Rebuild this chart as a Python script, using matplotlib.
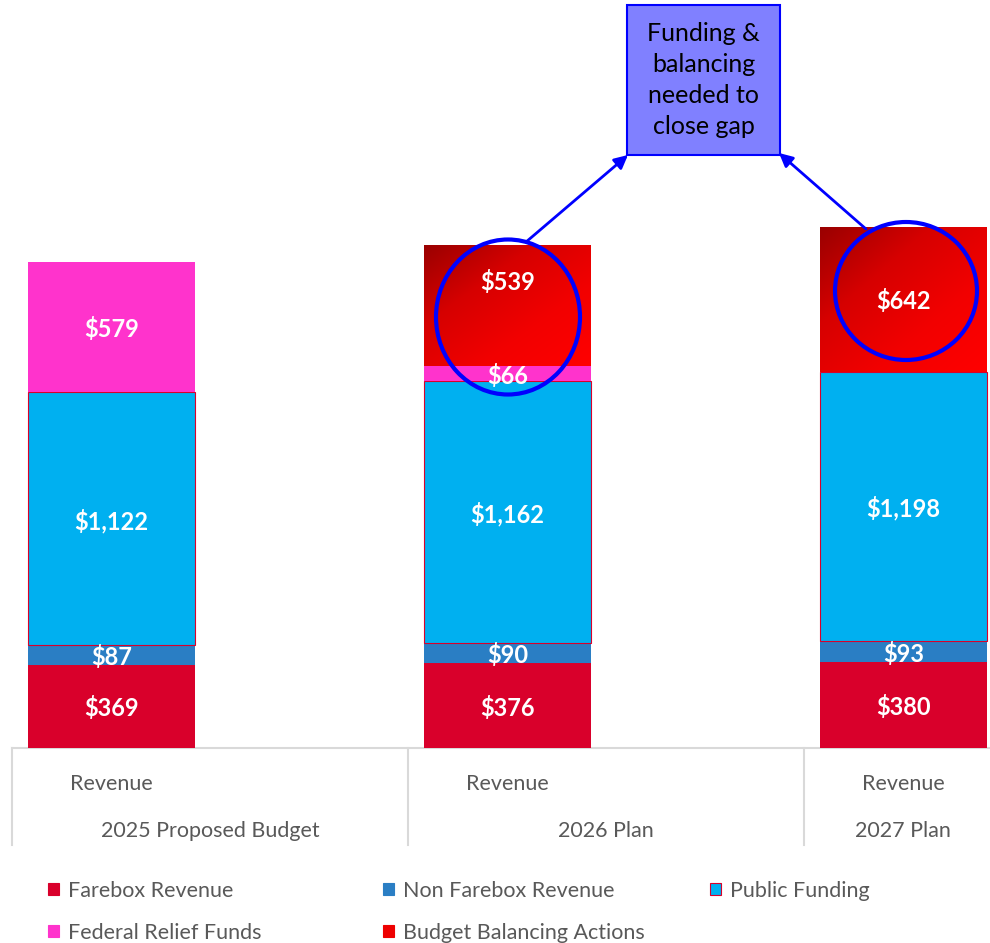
"""
Revenue stack per budget year, with gap-closing callout.
"""

import numpy as np
import matplotlib
matplotlib.use("Agg")
import matplotlib.pyplot as plt
from matplotlib.colors import LinearSegmentedColormap
from matplotlib.patches import Rectangle, Ellipse

plt.rcParams["font.family"] = ["Lato", "DejaVu Sans"]

groups = ["2025 Proposed Budget", "2026 Plan", "2027 Plan"]
sub_label = "Revenue"
farebox = [369, 376, 380]
non_farebox = [87, 90, 93]
public_funding = [1122, 1162, 1198]
federal_relief = [579, 66, 0]
balancing = [0, 539, 642]

series = [
    ("Farebox Revenue", farebox, "#D9002B"),
    ("Non Farebox Revenue", non_farebox, "#2A7EC4"),
    ("Public Funding", public_funding, "#00B0F0"),
    ("Federal Relief Funds", federal_relief, "#FF33CC"),
    ("Budget Balancing Actions", balancing, "#EE0000"),
]

# layout in pixels of the 990x943 canvas
W, H = 990, 943
BASE = 748          # pixel row of the baseline
YMAX = 3320         # value at the top edge of the axes
X0 = 111.5          # pixel column of the first bar centre
STEP = 396          # pixels between bar centres


def px_x(px):
    return (px - X0) / STEP


def px_y(py):
    return (BASE - py) * YMAX / BASE


fig = plt.figure(figsize=(W / 100, H / 100), dpi=100)
ax = fig.add_axes([12 / W, (H - BASE) / H, (W - 12) / W, BASE / H])

x = np.arange(len(groups))
width = 167 / STEP
bottom = np.zeros(len(groups))
label_shift = {("Budget Balancing Actions", 1): 115}

grad_cmap = LinearSegmentedColormap.from_list(
    "bal", ["#9A0000", "#D60000", "#F20000", "#FF0000"])
gy, gx = np.mgrid[0:1:100j, 0:1:100j]
grad = (gx + gy) / 2

for name, vals, color in series:
    vals = np.array(vals)
    edge = "#D9002B" if name == "Public Funding" else "none"
    bars = ax.bar(x, vals, width, bottom=bottom, color=color,
                  edgecolor=edge, linewidth=0.8, zorder=2)
    if name == "Budget Balancing Actions":
        for p in bars:
            if p.get_height() <= 0:
                continue
            im = ax.imshow(grad, cmap=grad_cmap, aspect="auto", origin="upper",
                           extent=[p.get_x(), p.get_x() + p.get_width(),
                                   p.get_y(), p.get_y() + p.get_height()],
                           zorder=2.5)
            im.set_clip_path(p)
    for i, (b, v) in enumerate(zip(bottom, vals)):
        if v <= 0:
            continue
        ax.text(x[i], b + v / 2 + label_shift.get((name, i), 0), f"${v:,}",
                ha="center", va="center_baseline", color="white", fontsize=17,
                fontweight="bold", zorder=5)
    bottom += vals

ax.set_xlim(px_x(12), px_x(W))
ax.set_ylim(0, YMAX)
for s in ax.spines.values():
    s.set_visible(False)
ax.set_xticks([])
ax.set_yticks([])

# category axis: baseline, separators, two label levels
xt = ax.get_xaxis_transform()
ax.plot([px_x(12), px_x(W)], [0, 0], color="#D9D9D9", lw=1.5,
        transform=xt, clip_on=False, zorder=1)
for sep in [12, 408, 804]:
    ax.plot([px_x(sep)] * 2, [0, (BASE - 845) / BASE], color="#D9D9D9",
            lw=1.5, transform=xt, clip_on=False)
group_px = [210, 606, 903]
for i, g in enumerate(groups):
    ax.text(x[i], (BASE - 782) / BASE, sub_label, transform=xt, ha="center",
            va="center_baseline", fontsize=15.5, color="#595959")
    ax.text(px_x(group_px[i]), (BASE - 829) / BASE, g, transform=xt,
            ha="center", va="center_baseline", fontsize=15.5, color="#595959")

# callout box, circles and arrows
ax.add_patch(Rectangle((px_x(627), px_y(155)), px_x(780) - px_x(627),
                       px_y(5) - px_y(155), facecolor="#8080FF",
                       edgecolor="#0000FF", lw=1.5, zorder=6, clip_on=False))
ax.text(px_x(703.5), px_y(80), "Funding &\nbalancing\nneeded to\nclose gap",
        ha="center", va="center", fontsize=18, color="black",
        linespacing=1.42, zorder=7)

ax.add_patch(Ellipse((px_x(508), px_y(317)), 144 / STEP, px_y(240) - px_y(395),
                     fill=False, edgecolor="#0000FF", lw=3, zorder=6))
ax.add_patch(Ellipse((px_x(906), px_y(291)), 142 / STEP, px_y(222) - px_y(360),
                     fill=False, edgecolor="#0000FF", lw=3, zorder=6))

arrow = dict(arrowstyle="-|>", color="#0000FF", lw=2, mutation_scale=20,
             shrinkA=0, shrinkB=0)
ax.annotate("", xy=(px_x(628), px_y(155)), xytext=(px_x(526), px_y(242)),
            arrowprops=arrow, zorder=6)
ax.annotate("", xy=(px_x(779), px_y(153)), xytext=(px_x(866), px_y(229)),
            arrowprops=arrow, zorder=6)

# legend, laid out by hand in three columns
legend_pos = {
    "Farebox Revenue": (48, 889),
    "Non Farebox Revenue": (383, 889),
    "Public Funding": (710, 889),
    "Federal Relief Funds": (48, 931),
    "Budget Balancing Actions": (383, 931),
}
for name, vals, color in series:
    lx, ly = legend_pos[name]
    edge = "#D9002B" if name == "Public Funding" else color
    fig.add_artist(Rectangle((lx / W, (H - ly - 6) / H), 11 / W, 12 / H,
                             facecolor=color, edgecolor=edge, lw=0.8,
                             transform=fig.transFigure))
    fig.text((lx + 20) / W, (H - ly) / H, name, ha="left", va="center_baseline",
             fontsize=15.5, color="#595959")

fig.savefig("out.png", dpi=100)
plt.close()
